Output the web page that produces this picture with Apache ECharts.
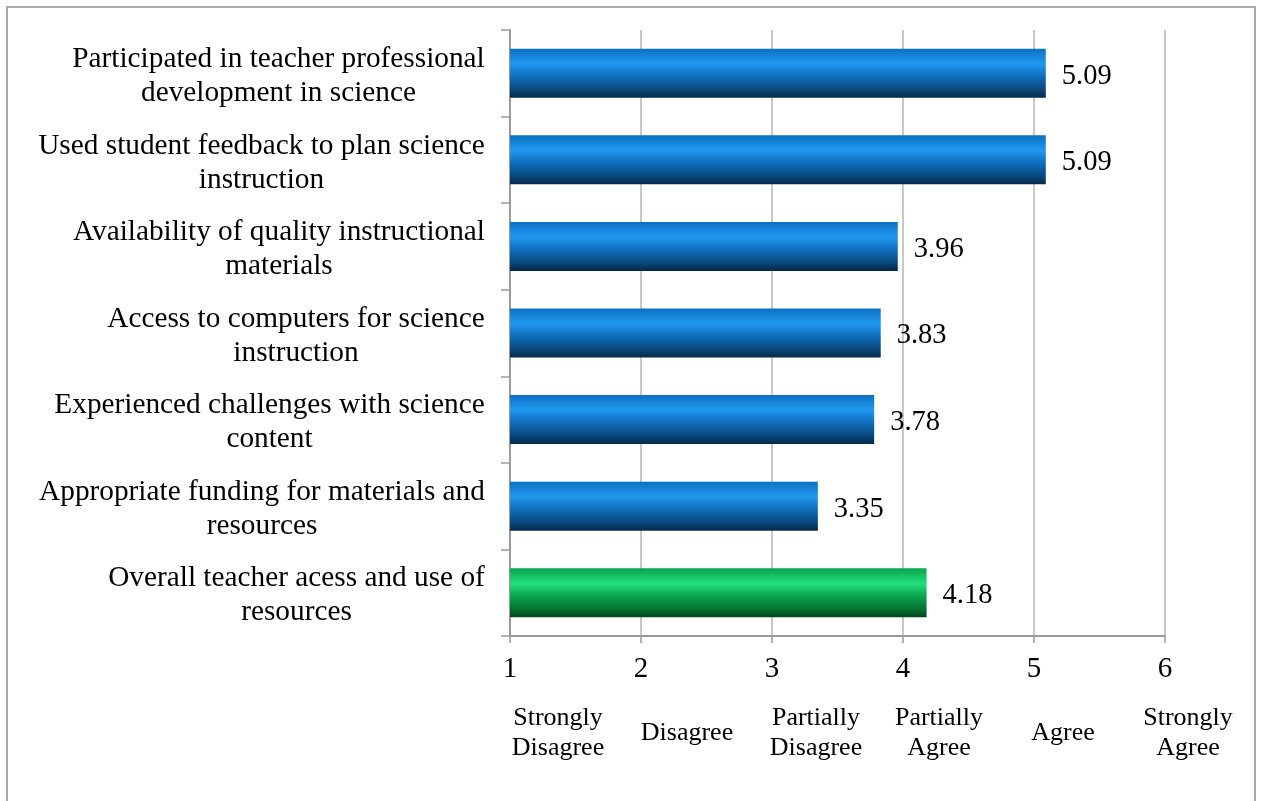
<!DOCTYPE html>
<html>
<head>
<meta charset="utf-8">
<script src="https://cdn.jsdelivr.net/npm/echarts@6/dist/echarts.min.js"></script>
<style>
html,body{margin:0;padding:0;background:#fff;}
#chart{width:1263px;height:801px;}
</style>
</head>
<body>
<div id="chart"></div>
<script>
const categories = [
  "Participated in teacher professional\ndevelopment in science",
  "Used student feedback to plan science\ninstruction",
  "Availability of quality instructional\nmaterials",
  "Access to computers for science\ninstruction",
  "Experienced challenges with science\ncontent",
  "Appropriate funding for materials and\nresources",
  "Overall teacher acess and use of\nresources"
];
const values = [5.09, 5.09, 3.96, 3.83, 3.78, 3.35, 4.18];
const isOverall = [false, false, false, false, false, false, true];
const scaleLabels = ["Strongly\nDisagree", "Disagree", "Partially\nDisagree", "Partially\nAgree", "Agree", "Strongly\nAgree"];

const FONT = "'Liberation Serif', 'Times New Roman', serif";
const CAT_FS = 29.3;
const blueGrad = new echarts.graphic.LinearGradient(0, 0, 0, 1, [
  {offset: 0, color: '#0b70c2'},
  {offset: 0.3, color: '#2298f0'},
  {offset: 0.55, color: '#1070c0'},
  {offset: 0.8, color: '#0a4c84'},
  {offset: 1, color: '#042a48'}
]);
const greenGrad = new echarts.graphic.LinearGradient(0, 0, 0, 1, [
  {offset: 0, color: '#07a64e'},
  {offset: 0.32, color: '#24de7a'},
  {offset: 0.55, color: '#0ca84f'},
  {offset: 0.8, color: '#077a36'},
  {offset: 1, color: '#03441c'}
]);

// measure widest line of each category so lines center relative to each other, block right-aligned
const ctx = document.createElement('canvas').getContext('2d');
ctx.font = CAT_FS + 'px ' + FONT;
const rich = {};
categories.forEach((c, i) => {
  const w = Math.max(...c.split('\n').map(l => ctx.measureText(l).width));
  rich['c' + i] = {width: Math.ceil(w), align: 'center', fontFamily: FONT, fontSize: CAT_FS, lineHeight: 34, color: '#000'};
});

const chart = echarts.init(document.getElementById('chart'), null, {renderer: 'canvas'});
const scaleX = [558, 687, 816, 939, 1063, 1188];
const option = {
  animation: false,
  backgroundColor: '#fff',
  grid: {left: 510, right: 98, top: 30, bottom: 165},
  xAxis: {
    type: 'value', min: 1, max: 6, interval: 1,
    axisLine: {show: true, lineStyle: {color: '#9a9a9a', width: 2}},
    axisTick: {show: true, length: 7, lineStyle: {color: '#9a9a9a', width: 1.5}},
    splitLine: {show: true, lineStyle: {color: '#c8c8c8', width: 2}},
    axisLabel: {color: '#000', fontFamily: FONT, fontSize: 29, margin: 19}
  },
  yAxis: {
    type: 'category', data: categories, inverse: true,
    axisLine: {show: true, lineStyle: {color: '#9a9a9a', width: 2}},
    axisTick: {show: true, length: 9, lineStyle: {color: '#9a9a9a', width: 1.5}},
    axisLabel: {
      color: '#000', fontFamily: FONT, fontSize: CAT_FS, lineHeight: 34, margin: 25, align: 'right',
      padding: [6, 0, 0, 0],
      formatter: (val, idx) => val.split('\n').map(l => '{c' + idx + '|' + l + '}').join('\n'),
      rich: rich
    }
  },
  series: [{
    type: 'bar',
    barWidth: 49,
    data: values.map((v, i) => ({value: v, itemStyle: {color: isOverall[i] ? greenGrad : blueGrad}})),
    label: {show: true, position: 'right', distance: 16, offset: [0, 3], color: '#000', fontFamily: FONT, fontSize: 28.5,
      formatter: p => p.value.toFixed(2)}
  }],
  graphic: [
    {type: 'rect', shape: {x: 7, y: 7, width: 1248, height: 830}, style: {fill: 'none', stroke: '#aaaaaa', lineWidth: 2}, z: 100}
  ].concat(scaleLabels.map((t, i) => ({
    type: 'text', x: scaleX[i], y: 733,
    style: {text: t, fill: '#000', font: '26px ' + FONT, align: 'center', verticalAlign: 'middle', lineHeight: 30}
  })))
};
chart.setOption(option);
</script>
</body>
</html>
